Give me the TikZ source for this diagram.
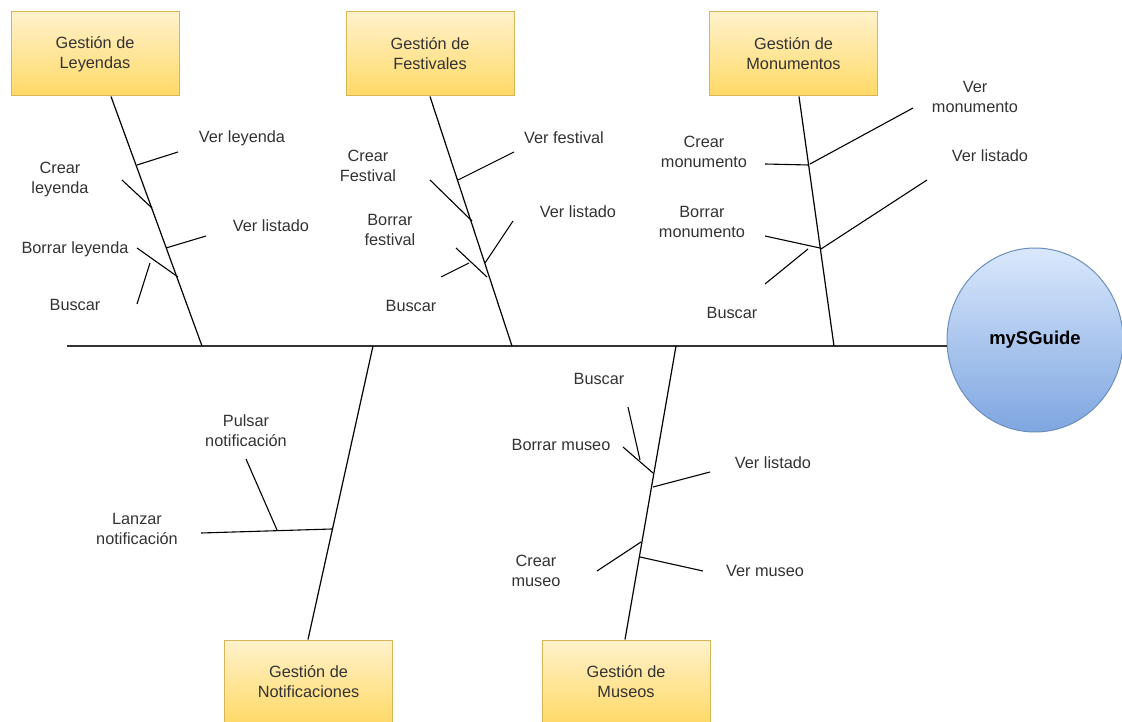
\documentclass[tikz,border=0pt]{standalone}
\usepackage{fontspec}
\setmainfont{Liberation Sans}
\usetikzlibrary{shapes.geometric,shadings}
\definecolor{boxtop}{HTML}{FFF2CC}
\definecolor{boxbot}{HTML}{FFD966}
\definecolor{boxline}{HTML}{D6B656}
\definecolor{headtop}{HTML}{DAE8FC}
\definecolor{headbot}{HTML}{7EA6E0}
\definecolor{headline}{HTML}{6C8EBF}
\definecolor{ink}{HTML}{333333}
\tikzset{
  category/.style={draw=boxline, line width=1pt, top color=boxtop, bottom color=boxbot,
    minimum width=168pt, minimum height=84pt, inner sep=0pt, align=center,
    text=ink, font=\fontsize{16.3}{20}\selectfont},
  cause/.style={align=center, text=ink, inner sep=0pt, font=\fontsize{16.3}{20}\selectfont},
  bone/.style={draw=black, line width=1.2pt},
  twig/.style={draw=black, line width=1.1pt},
  spine/.style={draw=ink, line width=1.6pt},
}
\begin{document}
\begin{tikzpicture}[x=1pt,y=-1pt]
\useasboundingbox (0,0) rectangle (1122,722);
\fill[white] (0,0) rectangle (1122,722);

% head of the fish
\node[ellipse, draw=headline, line width=1pt, top color=headtop, bottom color=headbot,
  minimum width=176pt, minimum height=184pt, inner sep=0pt,
  font=\bfseries\fontsize{18.5}{22}\selectfont, text=black] (head) at (1035,340) {mySGuide};
\coordinate (tail) at (67,346);
\draw[spine] (tail) -- (head.west |- tail);

% category boxes
\node[category] (ley) at (95,54) {Gestión de\\Leyendas};
\node[category] (fes) at (430,54) {Gestión de\\Festivales};
\node[category] (mon) at (793.5,54) {Gestión de\\Monumentos};
\node[category] (not) at (308.5,682) {Gestión de\\Notificaciones};
\node[category] (mus) at (626,682) {Gestión de\\Museos};

% joints on the spine
\coordinate (jley) at (202,346);
\coordinate (jfes) at (512,346);
\coordinate (jmon) at (834,346);
\coordinate (jnot) at (373,346);
\coordinate (jmus) at (676,346);

\draw[bone] (ley.south -| 111,0) -- (jley);
\draw[bone] (fes.south -| 430,0) -- (jfes);
\draw[bone] (mon.south -| 799,0) -- (jmon);
\draw[bone] (jnot) -- (not.north -| 308,0);
\draw[bone] (jmus) -- (mus.north -| 625,0);

% --- Leyendas
\coordinate (l1a) at (137,165); \coordinate (l1b) at (178,152);
\coordinate (l2a) at (122,180); \coordinate (l2b) at (152,208);
\coordinate (l3a) at (166,248); \coordinate (l3b) at (206,236);
\coordinate (l4a) at (137,248); \coordinate (l4b) at (178,277);
\coordinate (l5a) at (150,263); \coordinate (l5b) at (137,304);
\draw[twig] (l1a) -- (l1b);
\draw[twig] (l2a) -- (l2b);
\draw[twig] (l3a) -- (l3b);
\draw[twig] (l4a) -- (l4b);
\draw[twig] (l5a) -- (l5b);
\node[cause] (tl1) at (242,138) {Ver leyenda};
\node[cause] (tl2) at (60,180) {Crear\\leyenda};
\node[cause] (tl3) at (271,226) {Ver listado};
\node[cause] (tl4) at (75,249) {Borrar leyenda};
\node[cause] (tl5) at (75,305) {Buscar};

% --- Festivales
\coordinate (f1a) at (458,180); \coordinate (f1b) at (514,152);
\coordinate (f2a) at (430,180); \coordinate (f2b) at (472,221);
\coordinate (f3a) at (485,263); \coordinate (f3b) at (513,221);
\coordinate (f4a) at (456,248); \coordinate (f4b) at (487,277);
\coordinate (f5a) at (441,277); \coordinate (f5b) at (469,263);
\draw[twig] (f1a) -- (f1b);
\draw[twig] (f2a) -- (f2b);
\draw[twig] (f3a) -- (f3b);
\draw[twig] (f4a) -- (f4b);
\draw[twig] (f5a) -- (f5b);
\node[cause] (tf1) at (564,138) {Ver festival};
\node[cause] (tf2) at (368,166) {Crear\\Festival};
\node[cause] (tf3) at (578,212) {Ver listado};
\node[cause] (tf4) at (390,230) {Borrar\\festival};
\node[cause] (tf5) at (411,306) {Buscar};

% --- Monumentos
\coordinate (m1a) at (765,164); \coordinate (m1b) at (809,165);
\coordinate (m2a) at (810,164); \coordinate (m2b) at (913,108);
\coordinate (m3a) at (765,236); \coordinate (m3b) at (820,248);
\coordinate (m4a) at (821,249); \coordinate (m4b) at (927,180);
\coordinate (m5a) at (765,284); \coordinate (m5b) at (808,249);
\draw[twig] (m1a) -- (m1b);
\draw[twig] (m2a) -- (m2b);
\draw[twig] (m3a) -- (m3b);
\draw[twig] (m4a) -- (m4b);
\draw[twig] (m5a) -- (m5b);
\node[cause] (tm1) at (704,152) {Crear\\monumento};
\node[cause] (tm2) at (975,97) {Ver\\monumento};
\node[cause] (tm3) at (702,222) {Borrar\\monumento};
\node[cause] (tm4) at (990,156) {Ver listado};
\node[cause] (tm5) at (732,313) {Buscar};

% --- Notificaciones
\coordinate (n1a) at (201,533); \coordinate (n1b) at (332,529);
\coordinate (n2a) at (246,459); \coordinate (n2b) at (277,530);
\draw[twig] (n1a) -- (n1b);
\draw[twig] (n2a) -- (n2b);
\node[cause] (tn1) at (137,529) {Lanzar\\notificación};
\node[cause] (tn2) at (246,431) {Pulsar\\notificación};

% --- Museos
\coordinate (u1a) at (628,407); \coordinate (u1b) at (640,460);
\coordinate (u2a) at (623,447); \coordinate (u2b) at (653,473);
\coordinate (u3a) at (653,487); \coordinate (u3b) at (710,472);
\coordinate (u4a) at (597,571); \coordinate (u4b) at (641,542);
\coordinate (u5a) at (640,557); \coordinate (u5b) at (703,571);
\draw[twig] (u1a) -- (u1b);
\draw[twig] (u2a) -- (u2b);
\draw[twig] (u3a) -- (u3b);
\draw[twig] (u4a) -- (u4b);
\draw[twig] (u5a) -- (u5b);
\node[cause] (tu1) at (599,379) {Buscar};
\node[cause] (tu2) at (561,445) {Borrar museo};
\node[cause] (tu3) at (773,463) {Ver listado};
\node[cause] (tu4) at (536,571) {Crear\\museo};
\node[cause] (tu5) at (765,571) {Ver museo};
\end{tikzpicture}
\end{document}
